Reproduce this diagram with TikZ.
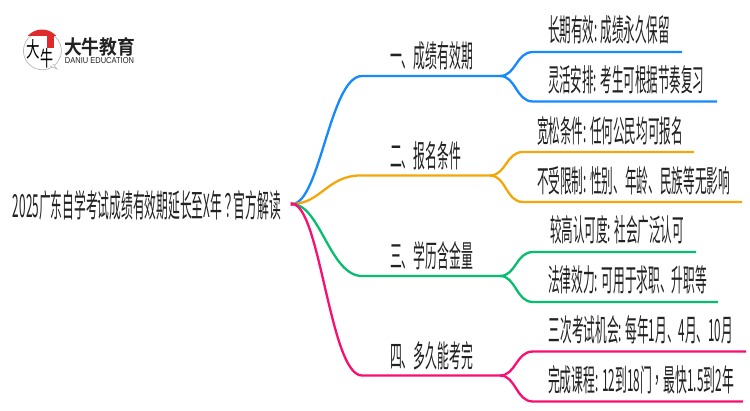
\documentclass[tikz,border=0pt]{standalone}
\usepackage{fontspec}
\usepackage{graphicx}
\setmainfont{Noto Sans CJK SC}
\newfontfamily\logofont{Noto Sans CJK SC Bold}
\newfontfamily\tcfont{Noto Sans CJK TC}
\newfontfamily\latinlogo{Liberation Sans}
\definecolor{cblue}{HTML}{1789FC}
\definecolor{corange}{HTML}{F5A70A}
\definecolor{cgreen}{HTML}{07BE70}
\definecolor{cpink}{HTML}{FA0F70}
\definecolor{ctext}{HTML}{222222}
\definecolor{cred}{HTML}{DE2A2A}
\newcommand{\fit}[3]{\resizebox{#1pt}{#2pt}{#3}}
\tikzset{
  lbl/.style={anchor=center,inner sep=0pt,outer sep=0pt,text=ctext},
  branch/.style={line width=2.3pt,line cap=round},
  leaf/.style={line width=2.3pt,line cap=butt},
}
\begin{document}
\begin{tikzpicture}[x=1pt,y=-1pt]
\useasboundingbox (0,0) rectangle (750,410);
\fill[white] (0,0) rectangle (750,410);
% coordinates
\coordinate (root) at (292,204);
\foreach \n/\xa/\xb/\ya in {1/362/500/76,2/360/490/175.5,3/362/500/276,4/362/500/375.5}{
  \coordinate (b\n s) at (\xa,\ya);
  \coordinate (b\n e) at (\xb,\ya);
}
\coordinate (l1as) at (533,52);   \coordinate (l1ae) at (682,52);
\coordinate (l1bs) at (533,101.5);\coordinate (l1be) at (717,101.5);
\coordinate (l2as) at (523,152);  \coordinate (l2ae) at (694,152);
\coordinate (l2bs) at (523,202);  \coordinate (l2be) at (742,202);
\coordinate (l3as) at (533,252);  \coordinate (l3ae) at (696,252);
\coordinate (l3bs) at (533,302);  \coordinate (l3be) at (718,302);
\coordinate (l4as) at (533,351.5);\coordinate (l4ae) at (746,351.5);
\coordinate (l4bs) at (533,401.5);\coordinate (l4be) at (743,401.5);
% branches
\foreach \n/\c in {1/cblue,2/corange,3/cgreen,4/cpink}{
  \draw[branch,\c] (root) .. controls +(28,0) and +(-32,0) .. (b\n s) -- (b\n e);
}
\foreach \n/\c in {1/cblue,2/corange,3/cgreen,4/cpink}{
  \draw[leaf,\c] (b\n e) .. controls +(16,0) and +(-17,0) .. (l\n as) -- (l\n ae);
  \draw[leaf,\c] (b\n e) .. controls +(16,0) and +(-17,0) .. (l\n bs) -- (l\n be);
}
\fill[cpink] (root) ++(-1.5,-2) -- ++(8,2) -- ++(-8,2) -- cycle;
% labels
\node[lbl] (title) at (147,205) {\fit{268}{27}{2025广东自学考试成绩有效期延长至X年{\tcfont ？}官方解读}};
\node[lbl] (t1) at (431.5,56) {\fit{83}{26}{一、成绩有效期}};
\node[lbl] (t2) at (425.5,155.5) {\fit{71}{26}{二、报名条件}};
\node[lbl] (t3) at (431.5,255.5) {\fit{83}{26}{三、学历含金量}};
\node[lbl] (t4) at (431.5,355.5) {\fit{83}{26}{四、多久能考完}};
\node[lbl] (la1) at (609,29.5) {\fit{122}{26}{长期有效: 成绩永久保留}};
\node[lbl] (lb1) at (626,80) {\fit{156}{26}{灵活安排: 考生可根据节奏复习}};
\node[lbl] (la2) at (610,130.5) {\fit{146}{26}{宽松条件: 任何公民均可报名}};
\node[lbl] (lb2) at (633.5,180.5) {\fit{193}{26}{不受限制: 性别、年龄、民族等无影响}};
\node[lbl] (la3) at (617,230) {\fit{134}{26}{较高认可度: 社会广泛认可}};
\node[lbl] (lb3) at (627.5,280) {\fit{159}{26}{法律效力: 可用于求职、升职等}};
\node[lbl] (la4) at (641,330) {\fit{184}{26}{三次考试机会: 每年1月、4月、10月}};
\node[lbl] (lb4) at (641,380) {\fit{186}{26}{完成课程: 12到18门{\tcfont ，}最快1.5到2年}};
% logo
\draw[black!28,line width=0.7pt,fill=white] (57,63) arc[start angle=40,end angle=360+15,radius=19] -- cycle;
\draw[black!28,line width=0.7pt,fill=white] (53,64) -- (57,69) -- (50,66);
\begin{scope}
\clip (42,48.5) circle (19);
\fill[cred] (20,28) rectangle (64,35.5);
\end{scope}
\fill[cred] (47,35) rectangle (54,48);
\node[lbl,text=black] (lg1) at (33.5,49.5) {\fit{13.5}{18}{大}};
\node[lbl,text=black] (lg2) at (47,58) {\fit{13}{18}{牛}};
\node[lbl,text=ctext] (lg3) at (99.5,46.5) {\fit{71}{17}{\logofont 大牛教育}};
\node[lbl,text=ctext] (lg4) at (99.5,60.8) {\resizebox{69pt}{6pt}{\latinlogo DANIU EDUCATION}};
\end{tikzpicture}
\end{document}
